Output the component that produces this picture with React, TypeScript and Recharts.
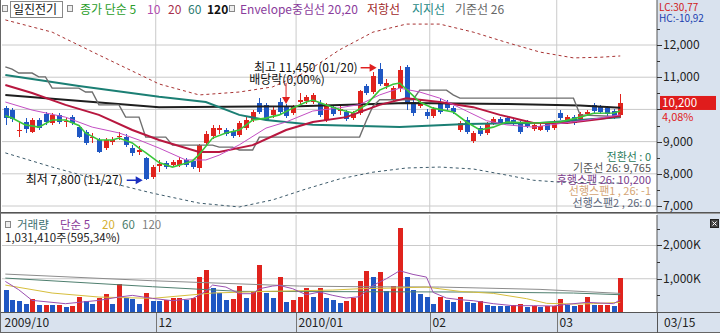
import React from 'react';
import {
  ComposedChart,
  Bar,
  Line,
  XAxis,
  YAxis,
  CartesianGrid,
  ReferenceLine,
  ReferenceDot,
} from 'recharts';

const FONT = "'Noto Sans CJK KR', 'Noto Sans', sans-serif";
const UP = '#e0231d';
const DOWN = '#1f57c3';
const GRID = '#cacaca';
const AXIS_BG = '#d9e2ee';
const W = 720;
const AXIS_W = 63;
const AXIS_X = W - AXIS_W;
const VOL_H = 119;
const XBAR_H = 21;

// trading days per month
const octDays = [29, 30];
const novDays = [2, 3, 4, 5, 6, 9, 10, 11, 12, 13, 16, 17, 18, 19, 20, 23, 24, 25, 26, 27, 30];
const decDays = [1, 2, 3, 4, 7, 8, 9, 10, 11, 14, 15, 16, 17, 18, 21, 22, 23, 24, 28, 29, 30];
const janDays = [4, 5, 6, 7, 8, 11, 12, 13, 14, 15, 18, 19, 20, 21, 22, 25, 26, 27, 28, 29];
const febDays = [1, 2, 3, 4, 5, 8, 9, 10, 11, 12, 16, 17, 18, 19, 22, 23, 24, 25, 26];
const marDays = [2, 3, 4, 5, 8, 9, 10, 11, 12, 15];

const monthLabels = ['2009/10', '12', '2010/01', '02', '03'];
const monthStarts = [0, 23, 44, 64, 83];

const pad2 = (n: number) => String(n).padStart(2, '0');
const dates = [
  ...octDays.map((d) => `2009/10/${pad2(d)}`),
  ...novDays.map((d) => `2009/11/${pad2(d)}`),
  ...decDays.map((d) => `2009/12/${pad2(d)}`),
  ...janDays.map((d) => `2010/01/${pad2(d)}`),
  ...febDays.map((d) => `2010/02/${pad2(d)}`),
  ...marDays.map((d) => `2010/03/${pad2(d)}`),
];

const opens = [
  10040, 9980, 9330, 9610, 9300, 9670, 9860, 9580, 9830, 9610,
  9760, 9450, 9300, 9110, 9050, 8800, 8990, 9140, 9140, 8800,
  8680, 8490, 7900, 8240, 8340, 8270, 8270, 8430, 8400, 8180,
  8960, 9170, 9360, 9360, 9330, 9210, 9420, 9670, 10200, 10140,
  9830, 10230, 10070, 9890, 10230, 10260, 10230, 10200, 9670, 10070,
  9950, 9920, 9730, 9890, 10730, 10540, 11260, 10730, 10320, 10660,
  11320, 10230, 10110, 9920, 9800, 10230, 10230, 10040, 9360, 9670,
  9020, 9420, 9270, 9580, 9700, 9730, 9670, 9580, 9610, 9390,
  9360, 9550, 9420, 9890, 9610, 9760, 9700, 9860, 10140, 10070,
  10040, 9950, 9830,
];
const highs = [
  10100, 10040, 9610, 9730, 9730, 9730, 9920, 9890, 9890, 9760,
  9830, 9520, 9360, 9270, 9110, 9110, 9140, 9300, 9240, 8890,
  8860, 8520, 8270, 8430, 8400, 8430, 8520, 8490, 8460, 8930,
  9330, 9520, 9520, 9420, 9390, 9640, 9760, 9980, 10350, 10200,
  10070, 10350, 10170, 10140, 10510, 10450, 10510, 10290, 10200, 10140,
  10140, 9980, 9950, 10600, 10790, 11160, 11450, 10940, 10730, 11350,
  11380, 10350, 10290, 10010, 10070, 10320, 10290, 10110, 9640, 9760,
  9330, 9480, 9610, 9760, 9760, 9800, 9730, 9640, 9670, 9580,
  9550, 9610, 9670, 9980, 9830, 9830, 9920, 9980, 10200, 10140,
  10110, 10010, 10480,
];
const lows = [
  9520, 9610, 9140, 9270, 9270, 9360, 9520, 9520, 9550, 9450,
  9520, 9110, 8890, 8960, 8650, 8740, 8890, 9050, 8830, 8550,
  8580, 7800, 7840, 8060, 8150, 8210, 8210, 8210, 8150, 8060,
  8860, 9080, 9240, 9170, 9110, 9140, 9360, 9610, 9860, 9640,
  9730, 9860, 9730, 9830, 10170, 10170, 10170, 9760, 9610, 9800,
  9830, 9640, 9670, 9830, 10450, 10480, 10730, 10630, 10260, 10540,
  9980, 9800, 10040, 9700, 9730, 9860, 9980, 9860, 9300, 9240,
  8960, 9170, 9210, 9520, 9520, 9550, 9480, 9240, 9420, 9330,
  9330, 9300, 9360, 9670, 9550, 9520, 9640, 9800, 9890, 9860,
  9800, 9700, 9730,
];
const closes = [
  9730, 9700, 9360, 9390, 9670, 9420, 9610, 9830, 9610, 9640,
  9580, 9140, 8960, 9140, 8680, 9050, 9050, 9170, 8890, 8650,
  8740, 7850, 8210, 8300, 8210, 8370, 8430, 8270, 8210, 8890,
  9240, 9420, 9420, 9240, 9170, 9580, 9670, 9920, 9920, 9670,
  9980, 9920, 9800, 10070, 10290, 10390, 10450, 9830, 10140, 9860,
  10010, 9700, 9890, 10570, 10510, 11040, 10790, 10820, 10660, 11220,
  10200, 9890, 10230, 9800, 10010, 9920, 10040, 9920, 9580, 9300,
  9270, 9240, 9550, 9700, 9580, 9610, 9550, 9300, 9480, 9520,
  9480, 9360, 9610, 9730, 9760, 9580, 9860, 9920, 9950, 9920,
  9860, 9800, 10200,
];
const volumes = [
  660000, 350000, 330000, 230000, 380000, 200000, 220000, 200000, 210000, 150000,
  180000, 440000, 320000, 250000, 410000, 530000, 250000, 840000, 430000, 380000,
  250000, 560000, 330000, 320000, 350000, 410000, 420000, 350000, 410000, 1060000,
  1260000, 710000, 560000, 350000, 380000, 780000, 410000, 610000, 1410000, 560000,
  410000, 1060000, 300000, 350000, 440000, 710000, 450000, 710000, 410000, 350000,
  270000, 330000, 410000, 940000, 1240000, 1060000, 1210000, 630000, 780000, 2530000,
  1060000, 660000, 540000, 440000, 250000, 440000, 350000, 300000, 450000, 300000,
  270000, 330000, 200000, 190000, 180000, 170000, 220000, 240000, 150000, 190000,
  150000, 180000, 190000, 380000, 220000, 170000, 220000, 450000, 200000, 210000,
  220000, 173240, 1031410,
];

// lines: [day index, value]
const ma5Pts = [[0, 9800], [1, 9730], [3, 9520], [5, 9450], [7, 9670], [9, 9670], [11, 9500], [12, 9270], [14, 9050], [16, 9050], [17, 9110], [19, 8960], [20, 8800], [21, 8660], [23, 8350], [25, 8210], [27, 8330], [28, 8400], [29, 8600], [31, 9110], [33, 9270], [35, 9360], [37, 9670], [39, 9730], [41, 9830], [43, 10040], [45, 10230], [46, 10290], [48, 10140], [50, 10000], [52, 9890], [54, 10140], [56, 10600], [58, 10780], [59, 10820], [61, 10430], [62, 10230], [64, 10040], [67, 9920], [69, 9610], [71, 9360], [73, 9450], [75, 9610], [79, 9580], [83, 9610], [86, 9760], [88, 9880], [91, 9890], [92, 9950]];
const ma10Pts = [[0, 10230], [4, 9980], [9, 9760], [13, 9450], [17, 9270], [20, 9050], [23, 8800], [27, 8430], [30, 8430], [32, 8580], [35, 8900], [39, 9420], [42, 9610], [46, 9950], [50, 10050], [53, 10150], [56, 10450], [59, 10660], [62, 10540], [65, 10350], [67, 10150], [69, 9950], [72, 9650], [75, 9520], [79, 9450], [83, 9560], [87, 9670], [92, 9830]];
const ma20Pts = [[0, 10760], [4, 10510], [9, 10140], [14, 9830], [19, 9360], [23, 9050], [29, 8680], [32, 8680], [37, 8890], [42, 9360], [46, 9610], [51, 9760], [56, 10140], [60, 10350], [65, 10230], [70, 10070], [74, 9830], [79, 9580], [84, 9580], [89, 9700], [92, 9800]];
const ma60Pts = [[0, 11070], [11, 10730], [23, 10390], [30, 10230], [35, 9830], [39, 9670], [46, 9520], [59, 9450], [69, 9550], [80, 9580], [88, 9700], [92, 9760]];
const ma120Pts = [[0, 10450], [23, 10070], [44, 10100], [60, 10200], [75, 10170], [86, 10120], [92, 10050]];
const kijunPts = [[0, 11320], [1, 11250], [2, 11130], [4, 11130], [5, 11010], [6, 11010], [7, 10660], [11, 10660], [12, 10540], [13, 10540], [14, 10140], [17, 10140], [18, 9760], [20, 9760], [21, 9140], [24, 9140], [25, 8890], [31, 8890], [32, 8830], [34, 8830], [35, 8740], [37, 8740], [38, 9140], [53, 9140], [54, 9650], [55, 10100], [56, 10300], [61, 10300], [62, 10600], [66, 10600], [67, 10450], [68, 10350], [85, 10350], [86, 9830], [92, 9770]];
const envUpPts = [[0, 12780], [7, 12400], [14, 11690], [23, 10790], [29, 10450], [35, 10540], [40, 10700], [45, 11160], [50, 11850], [55, 12400], [60, 12650], [65, 12650], [70, 12400], [75, 12080], [80, 11780], [85, 11600], [89, 11620], [92, 11660]];
const envDnPts = [[0, 8650], [7, 8210], [14, 7810], [22, 7400], [29, 7090], [35, 6970], [40, 7190], [45, 7530], [50, 7840], [55, 8050], [60, 8180], [65, 8210], [70, 8150], [75, 7960], [79, 7800], [83, 7740], [92, 7710]];

const vma5Pts = [[0, 920000], [2, 670000], [4, 350000], [9, 250000], [14, 350000], [17, 450000], [19, 500000], [22, 410000], [25, 340000], [28, 400000], [30, 620000], [31, 810000], [33, 750000], [35, 550000], [37, 550000], [38, 700000], [40, 780000], [41, 800000], [43, 700000], [45, 520000], [47, 600000], [49, 500000], [51, 420000], [53, 460000], [55, 800000], [57, 1000000], [59, 1240000], [61, 1130000], [63, 1050000], [64, 590000], [66, 420000], [68, 370000], [70, 340000], [73, 250000], [76, 190000], [79, 190000], [82, 180000], [84, 230000], [87, 290000], [89, 270000], [91, 250000], [92, 370000]];
const vma20Pts = [[0, 810000], [7, 570000], [14, 450000], [22, 410000], [31, 570000], [39, 620000], [49, 660000], [53, 700000], [58, 720000], [63, 750000], [68, 620000], [73, 560000], [78, 400000], [81, 260000], [85, 240000], [88, 250000], [92, 290000]];
const vma60Pts = [[0, 1020000], [22, 760000], [35, 620000], [53, 610000], [70, 600000], [85, 570000], [92, 520000]];
const vma120Pts = [[0, 1140000], [22, 940000], [44, 780000], [53, 760000], [65, 750000], [80, 680000], [92, 560000]];

const priceTicks = [7000, 7500, 8000, 8500, 9000, 9500, 10000, 10500, 11000, 11500, 12000, 12500];
const priceLabels = [7000, 8000, 9000, 11000, 12000];
const priceGrid = [7000, 8000, 9000, 10000, 11000, 12000];
const volTicks = [500000, 1000000, 1500000, 2000000, 2500000];
const volGrid = [1000000, 2000000];

const N = dates.length;
const SLOTS = N + 5;

const toMap = (pts: number[][]) => {
  const m: Record<number, number> = {};
  pts.forEach(([k, v]) => {
    m[k] = v;
  });
  return m;
};
const maps = {
  ma5: toMap(ma5Pts),
  ma10: toMap(ma10Pts),
  ma20: toMap(ma20Pts),
  ma60: toMap(ma60Pts),
  ma120: toMap(ma120Pts),
  kijun: toMap(kijunPts),
  envUp: toMap(envUpPts),
  envDn: toMap(envDnPts),
  vma5: toMap(vma5Pts),
  vma20: toMap(vma20Pts),
  vma60: toMap(vma60Pts),
  vma120: toMap(vma120Pts),
};

const rows = Array.from({ length: SLOTS }, (_, i) => {
  const real = i < N;
  const row: any = {
    i,
    d: real ? dates[i] : `pad${i}`,
    o: real ? opens[i] : null,
    c: real ? closes[i] : null,
    hl: real ? [lows[i], highs[i]] : null,
    v: real ? volumes[i] : null,
  };
  Object.entries(maps).forEach(([k, m]) => {
    row[k] = m[i] ?? null;
  });
  return row;
});

const fmt = (n: number) => n.toLocaleString('en-US');

const Candle = (props: any) => {
  const { x, y, width, height, payload } = props;
  if (!payload || payload.o == null) return null;
  const { o, c, hl } = payload;
  const [l, h] = hl;
  const top = Math.min(y, y + height);
  const bot = Math.max(y, y + height);
  const k = h > l ? (bot - top) / (h - l) : 0;
  const py = (v: number) => top + (h - v) * k;
  const col = c >= o ? UP : DOWN;
  const cx = Math.round(x + width / 2);
  const b1 = Math.round(py(Math.max(o, c)));
  const b2 = Math.max(b1 + 1, Math.round(py(Math.min(o, c))));
  return (
    <g>
      <line x1={cx + 0.5} x2={cx + 0.5} y1={Math.round(top)} y2={Math.round(bot)} stroke={col} />
      <rect x={cx - 2} y={b1} width={5} height={b2 - b1} fill={col} />
    </g>
  );
};

const VolBar = (props: any) => {
  const { x, y, width, height, payload } = props;
  if (!payload || payload.v == null) return null;
  const i = payload.i;
  const up = i > 0 && volumes[i] >= volumes[i - 1];
  const cx = Math.round(x + width / 2);
  const t = Math.round(Math.min(y, y + height));
  const b = Math.round(Math.max(y, y + height));
  return <rect x={cx - 2} y={t} width={5} height={Math.max(1, b - t)} fill={up ? UP : DOWN} />;
};

const PriceTick = (props: any) => {
  const { y, payload } = props;
  const v = payload.value;
  const major = v % 1000 === 0;
  const yy = Math.round(y) + 0.5;
  return (
    <g>
      <line x1={AXIS_X} x2={AXIS_X + (major ? 5 : 3)} y1={yy} y2={yy} stroke="#333" />
      {priceLabels.includes(v) && (
        <text x={AXIS_X + 6} y={y + 4} fontSize={12} fill="#222" fontFamily={FONT}>
          {fmt(v)}
        </text>
      )}
    </g>
  );
};

const VolTick = (props: any) => {
  const { y, payload } = props;
  const v = payload.value;
  const major = v % 1000000 === 0;
  const yy = Math.round(y) + 0.5;
  return (
    <g>
      <line x1={AXIS_X} x2={AXIS_X + (major ? 5 : 3)} y1={yy} y2={yy} stroke="#333" />
      {major && (
        <text x={AXIS_X + 6} y={y + 4} fontSize={12} fill="#222" fontFamily={FONT}>
          {fmt(v / 1000)}K
        </text>
      )}
    </g>
  );
};

const MonthTick = (props: any) => {
  const { x, payload } = props;
  const k = monthStarts.findIndex((s) => s - 0.5 === payload.value);
  if (k < 0) return null;
  const px = Math.round(x) + 0.5;
  const top = VOL_H - XBAR_H;
  return (
    <g>
      {k > 0 && <line x1={px} x2={px} y1={top} y2={VOL_H} stroke="#777" />}
      <text x={px + 2} y={top + 15} fontSize={12} fill="#222" fontFamily={FONT}>
        {monthLabels[k]}
      </text>
    </g>
  );
};

const HighMark = ({ cx, cy }: any) => (
  <g>
    <text x={cx - 22} y={cy + 9} textAnchor="end" fontSize={12} fill="#111" fontFamily={FONT}>
      {`최고 ${fmt(highs[56])} (01/20)`}
    </text>
    <line x1={cx - 19} x2={cx - 9} y1={cy + 5} y2={cy + 5} stroke="#e02020" strokeWidth={1.5} />
    <polygon points={`${cx - 10},${cy + 1} ${cx - 3},${cy + 5} ${cx - 10},${cy + 9}`} fill="#e02020" />
  </g>
);

const LowMark = ({ cx, cy }: any) => (
  <g>
    <text x={cx - 23} y={cy + 4} textAnchor="end" fontSize={12} fill="#111" fontFamily={FONT}>
      {`최저 ${fmt(lows[21])} (11/27)`}
    </text>
    <line x1={cx - 19} x2={cx - 9} y1={cy} y2={cy} stroke="#1a2fc0" strokeWidth={1.5} />
    <polygon points={`${cx - 10},${cy - 4} ${cx - 3},${cy} ${cx - 10},${cy + 4}`} fill="#1a2fc0" />
  </g>
);

const DivMark = ({ cx, cy }: any) => (
  <g>
    <text x={cx + 1} y={cy - 20} textAnchor="middle" fontSize={12} fill="#111" fontFamily={FONT}>
      배당락(0,00%)
    </text>
    <line x1={cx} x2={cx} y1={cy - 21} y2={cy - 6} stroke="#e02020" />
    <polygon points={`${cx - 4},${cy - 7} ${cx + 4},${cy - 7} ${cx},${cy}`} fill="#e02020" />
  </g>
);

const LastPrice = (props: any) => {
  const vb = props.viewBox || {};
  const right = (vb.x || 0) + (vb.width || 0);
  const yy = vb.y || 0;
  return (
    <g>
      <rect x={right + 3} y={yy - 7} width={56} height={14} fill="#e01c1c" />
      <text x={right + 5} y={yy + 4.5} fontSize={11.5} fill="#fff" fontFamily={FONT}>
        {fmt(closes[N - 1])}
      </text>
      <text x={right + 5} y={yy + 18} fontSize={11} fill="#e01c1c" fontFamily={FONT}>
        4,08%
      </text>
    </g>
  );
};

const line = (key: string, color: string, width: number, yAxisId: string, dash?: string) => (
  <Line
    key={key}
    xAxisId="c"
    yAxisId={yAxisId}
    dataKey={key}
    type="linear"
    stroke={color}
    strokeWidth={width}
    strokeDasharray={dash}
    dot={false}
    activeDot={false}
    connectNulls
    isAnimationActive={false}
  />
);

const Square = ({ x, y }: { x: number; y: number }) => (
  <rect x={x + 0.5} y={y + 0.5} width={5} height={6} fill="#eee" stroke="#888" />
);

export default function App() {
  const monthEdges = monthStarts.slice(1).map((s) => s - 0.5);
  return (
    <div
      style={{
        position: 'relative',
        width: W,
        height: 333,
        background: '#fff',
        fontFamily: FONT,
        overflow: 'hidden',
      }}
    >
      <style>{'body{margin:0}'}</style>
      <div style={{ position: 'absolute', left: AXIS_X, top: 0, width: AXIS_W, height: 333, background: AXIS_BG }} />
      <div style={{ position: 'absolute', left: 0, top: 313, width: W, height: 20, background: AXIS_BG }} />

      {/* price panel */}
      <div style={{ position: 'absolute', left: 0, top: 0 }}>
        <ComposedChart width={W} height={214} data={rows} margin={{ top: 0, right: 0, bottom: 2, left: 2 }}>
          <XAxis xAxisId="c" dataKey="d" type="category" hide />
          <XAxis xAxisId="n" dataKey="i" type="number" domain={[-0.5, SLOTS - 0.5]} allowDataOverflow hide />
          <YAxis
            yAxisId="p"
            orientation="right"
            width={AXIS_W}
            domain={[6814, 13398]}
            allowDataOverflow
            ticks={priceTicks}
            interval={0}
            tick={<PriceTick />}
            tickLine={false}
            axisLine={{ stroke: '#555' }}
          />
          <CartesianGrid xAxisId="n" yAxisId="p" stroke={GRID} horizontalValues={priceGrid} verticalValues={monthEdges} />
          <Bar xAxisId="c" yAxisId="p" dataKey="hl" barSize={5} shape={<Candle />} isAnimationActive={false} />
          {line('envUp', '#a83232', 1, 'p', '3 3')}
          {line('envDn', '#3c5a6a', 1, 'p', '3 3')}
          {line('ma120', '#1e1e1e', 2, 'p')}
          {line('ma60', '#1b7f74', 2, 'p')}
          {line('kijun', '#6e6e6e', 1.4, 'p')}
          {line('ma20', '#b8173f', 2, 'p')}
          {line('ma10', '#c44fc4', 1, 'p')}
          {line('ma5', '#39c639', 1.6, 'p')}
          <ReferenceDot xAxisId="c" yAxisId="p" x={dates[56]} y={highs[56]} r={0} shape={(p: any) => <HighMark {...p} />} />
          <ReferenceDot xAxisId="c" yAxisId="p" x={dates[21]} y={lows[21]} r={0} shape={(p: any) => <LowMark {...p} />} />
          <ReferenceDot xAxisId="c" yAxisId="p" x={dates[42]} y={highs[42]} r={0} shape={(p: any) => <DivMark {...p} />} />
          <ReferenceLine xAxisId="n" yAxisId="p" y={closes[N - 1]} stroke="none" label={(p: any) => <LastPrice {...p} />} />
        </ComposedChart>
      </div>

      {/* volume panel */}
      <div style={{ position: 'absolute', left: 0, top: 214 }}>
        <ComposedChart width={W} height={VOL_H} data={rows} margin={{ top: 1, right: 0, bottom: 0, left: 2 }}>
          <XAxis xAxisId="c" dataKey="d" type="category" hide />
          <XAxis
            xAxisId="n"
            dataKey="i"
            type="number"
            domain={[-0.5, SLOTS - 0.5]}
            allowDataOverflow
            ticks={monthStarts.map((s) => s - 0.5)}
            interval={0}
            tick={<MonthTick />}
            tickLine={false}
            axisLine={false}
            height={XBAR_H}
          />
          <YAxis
            yAxisId="v"
            orientation="right"
            width={AXIS_W}
            domain={[0, 2917000]}
            allowDataOverflow
            ticks={volTicks}
            interval={0}
            tick={<VolTick />}
            tickLine={false}
            axisLine={{ stroke: '#555' }}
          />
          <CartesianGrid xAxisId="n" yAxisId="v" stroke={GRID} horizontalValues={volGrid} verticalValues={monthEdges} />
          <Bar xAxisId="c" yAxisId="v" dataKey="v" barSize={5} shape={<VolBar />} isAnimationActive={false} />
          {line('vma120', '#8c8c8c', 1, 'v')}
          {line('vma60', '#4f7f6f', 1, 'v')}
          {line('vma20', '#d6be3c', 1, 'v')}
          {line('vma5', '#9b4fb0', 1, 'v')}
        </ComposedChart>
      </div>

      {/* frame and captions */}
      <svg
        width={W}
        height={333}
        style={{ position: 'absolute', left: 0, top: 0, pointerEvents: 'none' }}
        fontFamily={FONT}
        fontSize={12}
      >
        <line x1={0} x2={W} y1={212.5} y2={212.5} stroke="#555" />
        <line x1={0} x2={W} y1={213.5} y2={213.5} stroke="#999" />
        <line x1={0} x2={W} y1={312.5} y2={312.5} stroke="#555" />
        <line x1={0} x2={W} y1={332.5} y2={332.5} stroke="#666" />
        <line x1={0.5} x2={0.5} y1={0} y2={333} stroke="#666" />
        <line x1={AXIS_X + 0.5} x2={AXIS_X + 0.5} y1={312} y2={333} stroke="#555" />

        {/* price header */}
        <Square x={2} y={5} />
        <rect x={10.5} y={1.5} width={52} height={16} fill="#fff" stroke="#888" />
        <text x={13} y={14} fill="#111">일진전기</text>
        <Square x={67} y={5} />
        <text x={80} y={14} fill="#2a9d2a">종가 단순 5</text>
        <text x={147} y={14} fill="#b04cb0">10</text>
        <text x={168} y={14} fill="#a8304c">20</text>
        <text x={188} y={14} fill="#2a7a70">60</text>
        <text x={207} y={14} fill="#111" fontWeight="bold">120</text>
        <Square x={229} y={5} />
        <text x={240} y={14} fill="#8a3c9c">Envelope중심선 20,20</text>
        <text x={367} y={14} fill="#a02828">저항선</text>
        <text x={412} y={14} fill="#1f8a86">지지선</text>
        <text x={455} y={14} fill="#666">기준선 26</text>
        <text x={659} y={10.5} fill="#d02020" fontSize={10}>LC:30,77</text>
        <text x={659} y={21.5} fill="#2040b0" fontSize={10}>HC:-10,92</text>

        {/* ichimoku values */}
        <g fontSize={11}>
          <text x={651} y={160.5} textAnchor="end" fill="#2a7a5a">전환선 : 0</text>
          <text x={651} y={172} textAnchor="end" fill="#555">기준선 26: 9,765</text>
          <text x={651} y={183.5} textAnchor="end" fill="#7a3a8a">후행스팬 26: 10,200</text>
          <text x={651} y={195} textAnchor="end" fill="#d4a474">선행스팬1 , 26: -1</text>
          <text x={651} y={207} textAnchor="end" fill="#5a6478">선행스팬2 , 26: 0</text>
        </g>

        {/* volume header */}
        <g fontSize={11.5}>
          <Square x={5} y={221} />
          <text x={17} y={229} fill="#3c6e6e">거래량</text>
          <text x={60} y={229} fill="#8a3c9a">단순 5</text>
          <text x={102} y={229} fill="#d4b030">20</text>
          <text x={122} y={229} fill="#4a7c6c">60</text>
          <text x={142} y={229} fill="#808080">120</text>
          <text x={5} y={242} fill="#222">1,031,410주(595,34%)</text>
        </g>
        <rect x={710.5} y={219.5} width={8} height={8} fill="#444" stroke="#222" />
        <path d="M712.5 221.5 L716.5 225.5 M716.5 221.5 L712.5 225.5" stroke="#fff" />

        <text x={664} y={327} fill="#222">03/15</text>
      </svg>
    </div>
  );
}
